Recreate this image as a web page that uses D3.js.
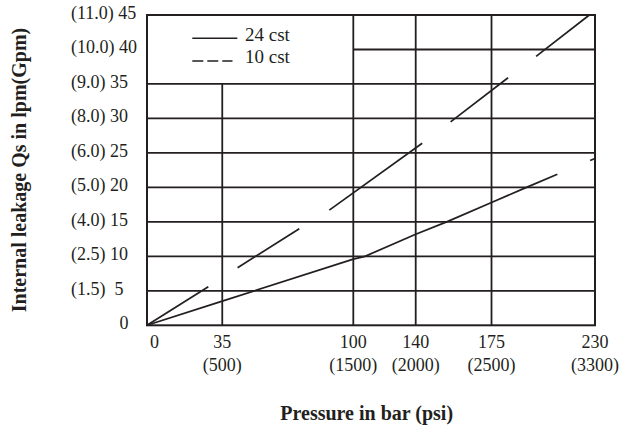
<!DOCTYPE html>
<html>
<head>
<meta charset="utf-8">
<script src="https://cdn.jsdelivr.net/npm/d3@7/dist/d3.min.js"></script>
<style>
    body { margin: 0; background: #fff; }
    text { font-family: "Liberation Serif", "Times New Roman", serif; fill: #231f20; }
</style>
</head>
<body>
<div id="chart"></div>
<script>
// tick values and labels (bar / psi, lpm / gpm)
let pressureBar = [0, 35, 100, 140, 175, 230]
let pressurePsi = ["", "(500)", "(1500)", "(2000)", "(2500)", "(3300)"]
let leakLpm = [0, 5, 10, 15, 20, 25, 30, 35, 40, 45]
let leakGpm = ["", "(1.5)", "(2.5)", "(4.0)", "(5.0)", "(6.0)", "(8.0)", "(9.0)", "(10.0)", "(11.0)"]

// grid pieces: value, start, end (data units)
let gridH = [[5, 0, 230], [10, 0, 230], [15, 0, 230], [20, 0, 230], [25, 0, 230], [30, 0, 230], [35, 0, 230], [40, 100, 230]]
let gridV = [[35, 0, 35], [100, 0, 45], [140, 0, 45], [175, 0, 45]]

// curves, [bar, lpm], drawn as separate pieces
let cst24 = [
    [[0, 0], [35, 3.5], [100, 9.6], [107.5, 10], [140, 13.2], [154.3, 15], [175, 17.8], [193.6, 20], [210, 21.9]],
    [[227.4, 23.9], [230, 24.2]]
]
let cst10 = [
    [[0, 0], [28.5, 5.6]],
    [[42.6, 8.35], [73.2, 14.0]],
    [[88.1, 16.7], [143, 26.4]],
    [[156.1, 29.5], [183.8, 35.9]],
    [[198.7, 39.0], [227, 45]]
]

let ink = "#231f20"
let margin = {top: 15, left: 147}
let width = 448, height = 310.3

// x grid lines are not evenly spaced in the original, so piecewise scale
let xFrac = [0, 0.168, 0.4605, 0.5998, 0.769, 1]

let svg = d3.select("#chart").append("svg")
    .attr("width", 623)
    .attr("height", 431)

let g = svg.append("g")
    .attr("transform", `translate(${margin.left}, ${margin.top})`)

let x = d3.scaleLinear()
    .domain(pressureBar)
    .range(xFrac.map(f => f * width))

let y = d3.scaleLinear()
    .domain([0, 45])
    .range([height, 0])

// grid
g.selectAll(".hgrid")
    .data(gridH)
    .join("line")
    .attr("class", "hgrid")
    .attr("x1", d => x(d[1]))
    .attr("x2", d => x(d[2]))
    .attr("y1", d => y(d[0]))
    .attr("y2", d => y(d[0]))
    .attr("stroke", ink)
    .attr("stroke-width", 1.8)

g.selectAll(".vgrid")
    .data(gridV)
    .join("line")
    .attr("class", "vgrid")
    .attr("x1", d => x(d[0]))
    .attr("x2", d => x(d[0]))
    .attr("y1", d => y(d[1]))
    .attr("y2", d => y(d[2]))
    .attr("stroke", ink)
    .attr("stroke-width", 1.8)

// frame
g.append("rect")
    .attr("width", width)
    .attr("height", height)
    .attr("fill", "none")
    .attr("stroke", ink)
    .attr("stroke-width", 2)

// curves
let line = d3.line()
    .x(d => x(d[0]))
    .y(d => y(d[1]))

g.selectAll(".c24")
    .data(cst24)
    .join("path")
    .attr("class", "c24")
    .attr("d", line)
    .attr("fill", "none")
    .attr("stroke", ink)
    .attr("stroke-width", 1.7)

g.selectAll(".c10")
    .data(cst10)
    .join("path")
    .attr("class", "c10")
    .attr("d", line)
    .attr("fill", "none")
    .attr("stroke", ink)
    .attr("stroke-width", 1.7)

// x tick labels
let xl = g.selectAll(".xlab")
    .data(pressureBar)
    .join("text")
    .attr("class", "xlab")
    .attr("font-size", 18)
    .attr("text-anchor", (d, i) => i == 0 ? "start" : "middle")
    .attr("transform", (d, i) => `translate(${x(d) + (i == 0 ? 3 : 0)}, ${height + 23})`)

xl.append("tspan")
    .attr("x", 0)
    .text(d => d)
xl.append("tspan")
    .attr("x", 0)
    .attr("y", 22.5)
    .text((d, i) => pressurePsi[i])

// y tick labels
g.selectAll(".ylab")
    .data(leakLpm)
    .join("text")
    .attr("class", "ylab")
    .attr("font-size", 18)
    .style("white-space", "pre")
    .attr("text-anchor", (d, i) => i == 0 ? "end" : "start")
    .attr("x", (d, i) => i == 0 ? -18.5 : -76)
    .attr("y", d => y(d) + 4)
    .text((d, i) => i == 0 ? "0" : leakGpm[i] + " " + String(d).padStart(2, " "))

// legend
let legend = g.append("g")
legend.append("line")
    .attr("x1", 45.3).attr("x2", 90.3)
    .attr("y1", 23.3).attr("y2", 23.3)
    .attr("stroke", ink).attr("stroke-width", 1.6)
legend.append("line")
    .attr("x1", 45.3).attr("x2", 85.5)
    .attr("y1", 46).attr("y2", 46)
    .attr("stroke", ink).attr("stroke-width", 1.6)
    .attr("stroke-dasharray", "11,4")
legend.append("text")
    .attr("x", 98).attr("y", 25.5)
    .attr("font-size", 19)
    .text("24 cst")
legend.append("text")
    .attr("x", 98).attr("y", 48.3)
    .attr("font-size", 19)
    .text("10 cst")

// axis titles
svg.append("text")
    .attr("transform", "translate(26, 170) rotate(-90)")
    .attr("text-anchor", "middle")
    .attr("font-size", 20)
    .attr("font-weight", "bold")
    .text("Internal leakage Qs in lpm(Gpm)")

svg.append("text")
    .attr("x", 366.7)
    .attr("y", 420)
    .attr("text-anchor", "middle")
    .attr("font-size", 20)
    .attr("font-weight", "bold")
    .text("Pressure in bar (psi)")
</script>
</body>
</html>
